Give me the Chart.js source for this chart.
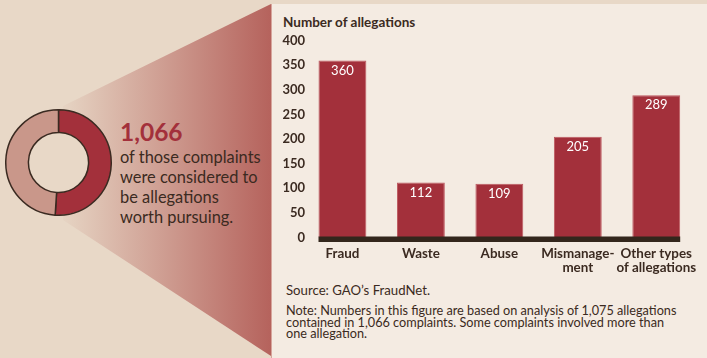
<!DOCTYPE html>
<html>
<head>
<meta charset="utf-8">
<script src="https://cdn.jsdelivr.net/npm/chart.js@4"></script>
<style>
  body { margin: 0; width: 707px; height: 358px; background: #e8d8c7; position: relative; overflow: hidden; font-family: Lato, "Open Sans", sans-serif; color: #3b2a21; }
  #wedge { position: absolute; left: 63px; top: 0; width: 209px; height: 358px;
    background: linear-gradient(to right, #e6d4c3, #b5625c);
    clip-path: polygon(0 106px, 208px 4px, 208px 356px, 0 220px); }
  #panel { position: absolute; left: 271px; top: 4px; width: 436px; height: 354px; background: #f4ebe2; border-left: 1px solid #d7a59c; box-sizing: border-box; }
  #donut { position: absolute; left: 5px; top: 109px; }
  #bars { position: absolute; left: 272px; top: 30px; }
  #lead { position: absolute; left: 120px; top: 118px; }
  #lead .big { font-size: 24.5px; font-weight: 700; color: #a3303b; line-height: 28px; }
  #lead .txt { font-size: 16.4px; line-height: 20px; margin-top: 1px; }
  #ytitle { position: absolute; left: 283px; top: 14px; font-size: 13.5px; font-weight: 700; }
  #source { position: absolute; left: 286px; top: 282px; font-size: 13.2px; }
  #note { position: absolute; left: 286px; top: 305px; font-size: 12.7px; line-height: 11.6px; width: 420px; }
</style>
</head>
<body>
<div id="wedge"></div>
<div id="panel"></div>
<canvas id="donut" width="107" height="107"></canvas>
<div id="lead">
  <div class="big">1,066</div>
  <div class="txt">of those complaints<br>were considered to<br>be allegations<br>worth pursuing.</div>
</div>
<div id="ytitle">Number of allegations</div>
<canvas id="bars" width="435" height="250"></canvas>
<div id="source">Source: GAO’s FraudNet.</div>
<div id="note">Note: Numbers in this figure are based on analysis of 1,075 allegations<br>contained in 1,066 complaints. Some complaints involved more than<br>one allegation.</div>

<script>
const complaintLabels = ['Allegations worth pursuing', 'Other complaints'];
const complaintCounts = [1066, 1024];

const allegationTypes = ['Fraud', 'Waste', 'Abuse', ['Mismanage-', 'ment'], ['Other types', 'of allegations']];
const allegationCounts = [360, 112, 109, 205, 289];
const yTicks = [0, 50, 100, 150, 200, 250, 300, 350, 400];

const darkText = '#3b2a21';
const barRed = '#a3303b';

// fill the donut hole so the wedge behind it doesn't show through
const holeFill = {
    id: 'holeFill',
    beforeDatasetsDraw(chart) {
        const arc = chart.getDatasetMeta(0).data[0];
        const ctx = chart.ctx;
        ctx.save();
        ctx.beginPath();
        ctx.arc(arc.x, arc.y, arc.innerRadius, 0, Math.PI * 2);
        ctx.fillStyle = '#e8d8c7';
        ctx.fill();
        ctx.restore();
    }
};

new Chart(document.getElementById('donut'), {
    type: 'doughnut',
    data: {
        labels: complaintLabels,
        datasets: [{
            data: complaintCounts,
            backgroundColor: [barRed, '#c9978a'],
            borderColor: '#3a2a21',
            borderWidth: 1.5
        }]
    },
    options: {
        responsive: false,
        animation: false,
        events: [],
        cutout: '57%',
        plugins: { legend: { display: false }, tooltip: { enabled: false } }
    },
    plugins: [holeFill]
});

// dark baseline under the bars and the white value labels
const barExtras = {
    id: 'barExtras',
    afterDatasetsDraw(chart) {
        const ctx = chart.ctx;
        const meta = chart.getDatasetMeta(0);
        const first = meta.data[0];
        const last = meta.data[meta.data.length - 1];
        const y0 = chart.scales.y.getPixelForValue(0);
        ctx.save();
        ctx.fillStyle = '#33261c';
        ctx.fillRect(first.x - first.width / 2, y0 - 1, (last.x + last.width / 2) - (first.x - first.width / 2), 5.5);

        ctx.fillStyle = '#ffffff';
        ctx.font = '13px Lato, "Open Sans", sans-serif';
        ctx.textAlign = 'center';
        ctx.textBaseline = 'middle';
        meta.data.forEach((bar, i) => {
            ctx.fillText(allegationCounts[i], bar.x, bar.y + 10);
        });
        ctx.restore();
    }
};

new Chart(document.getElementById('bars'), {
    type: 'bar',
    data: {
        labels: allegationTypes,
        datasets: [{
            data: allegationCounts,
            backgroundColor: barRed,
            borderColor: '#bd5860',
            borderWidth: 1,
            barPercentage: 0.61,
            categoryPercentage: 1
        }]
    },
    options: {
        responsive: false,
        animation: false,
        events: [],
        layout: { padding: { top: 10.7, right: 8.8, left: 0, bottom: 0 } },
        plugins: { legend: { display: false }, tooltip: { enabled: false } },
        scales: {
            y: {
                min: 0,
                max: 400,
                afterBuildTicks(scale) { scale.ticks = yTicks.map(v => ({ value: v })); },
                afterFit(scale) { scale.width = 31.2; },
                // labels sit a little into the plot area, so don't clip them to the axis box
                afterUpdate(scale) { scale._computeLabelArea = () => undefined; },
                grid: { display: false, drawTicks: false },
                border: { display: false },
                ticks: { color: darkText, padding: -1.8, font: { family: 'Lato', size: 13, weight: 'bold' } }
            },
            x: {
                afterFit(scale) { scale.height = 42.5; },
                grid: { display: false, drawTicks: false },
                border: { display: false },
                ticks: { color: darkText, padding: 10, maxRotation: 0, autoSkip: false,
                    font: { family: 'Lato', size: 13.4, weight: 'bold', lineHeight: 0.98 } }
            }
        }
    },
    plugins: [barExtras]
});
</script>
</body>
</html>
